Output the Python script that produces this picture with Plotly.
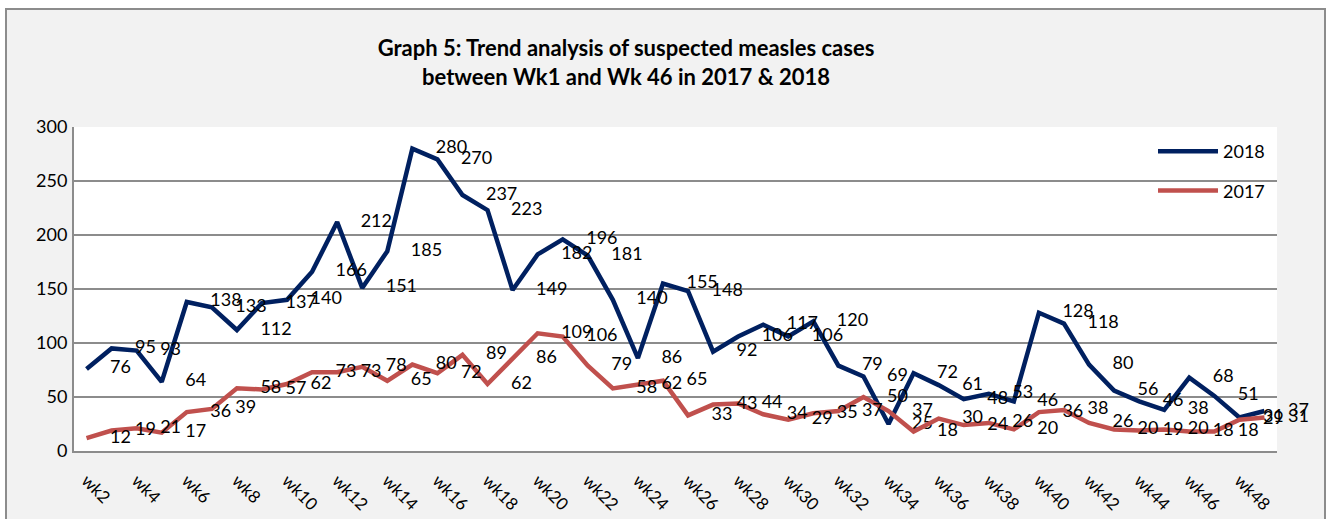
import plotly.graph_objects as go

weeks = ["wk2", "wk3", "wk4", "wk5", "wk6", "wk7", "wk8", "wk9", "wk10", "wk11",
         "wk12", "wk13", "wk14", "wk15", "wk16", "wk17", "wk18", "wk19", "wk20", "wk21",
         "wk22", "wk23", "wk24", "wk25", "wk26", "wk27", "wk28", "wk29", "wk30", "wk31",
         "wk32", "wk33", "wk34", "wk35", "wk36", "wk37", "wk38", "wk39", "wk40", "wk41",
         "wk42", "wk43", "wk44", "wk45", "wk46", "wk47", "wk48", "wk49"]

cases_2018 = [76, 95, 93, 64, 138, 133, 112, 137, 140, 166,
              212, 151, 185, 280, 270, 237, 223, 149, 182, 196,
              181, 140, 86, 155, 148, 92, 106, 117, 106, 120,
              79, 69, 25, 72, 61, 48, 53, 46, 128, 118,
              80, 56, 46, 38, 68, 51, 31, 37]

cases_2017 = [12, 19, 21, 17, 36, 39, 58, 57, 62, 73,
              73, 78, 65, 80, 72, 89, 62, 86, 109, 106,
              79, 58, 62, 65, 33, 43, 44, 34, 29, 35,
              37, 50, 37, 18, 30, 24, 26, 20, 36, 38,
              26, 20, 19, 20, 18, 18, 29, 31]

tick_labels = weeks[::2]

FONT = "Lato"
W, H = 1331, 519
L, R, T, B = 74, 1277, 127, 451

fig = go.Figure()
for name, vals, col in [("2018", cases_2018, "#002060"), ("2017", cases_2017, "#C0504D")]:
    fig.add_trace(go.Scatter(
        x=weeks, y=vals, name=name, legendgroup=name,
        mode="lines+markers+text",
        line=dict(color=col, width=4.5),
        marker=dict(size=36, color="rgba(0,0,0,0)"),
        text=[str(v) for v in vals],
        textposition="middle right",
        textfont=dict(family=FONT, size=18, color="#000000"),
        cliponaxis=False,
        hoverinfo="x+y+name",
    ))

pw = R - L
ph = B - T
fig.add_shape(type="rect", xref="paper", yref="paper",
              x0=(6 - L) / pw, x1=(1325 - L) / pw,
              y0=(B - 560) / ph, y1=(B - 9) / ph,
              fillcolor="#F2F2F2", line=dict(color="#8C8C8C", width=2), layer="below")
fig.add_shape(type="rect", xref="paper", yref="paper", x0=0, x1=1, y0=0, y1=1,
              fillcolor="#FFFFFF", line=dict(width=0), layer="below")

fig.update_layout(
    width=W, height=H,
    margin=dict(l=L, r=W - R, t=T, b=H - B, pad=0, autoexpand=False),
    paper_bgcolor="#FFFFFF",
    plot_bgcolor="#FFFFFF",
    font=dict(family=FONT, size=18, color="#000000"),
    title=dict(
        text="<b>Graph 5: Trend analysis of suspected measles cases<br>between Wk1 and Wk 46 in 2017 &amp; 2018</b>",
        font=dict(family=FONT, size=22, color="#000000"),
        xref="container", x=626 / W, xanchor="center",
        yref="container", y=1 - 56 / H, yanchor="middle",
    ),
    showlegend=True,
    legend=dict(
        x=(1153 - L) / pw, y=(B - 133) / ph, xanchor="left", yanchor="top",
        bgcolor="rgba(0,0,0,0)", font=dict(family=FONT, size=18),
        tracegroupgap=13, itemwidth=60,
    ),
    xaxis=dict(
        type="category", categoryorder="array", categoryarray=weeks,
        range=[-0.5, len(weeks) - 0.5],
        tickmode="array", tickvals=tick_labels, ticktext=tick_labels,
        tickangle=45, showgrid=False, automargin=False,
        ticks="outside", ticklen=11, tickcolor="rgba(0,0,0,0)",
        showline=True, linecolor="#8C8C8C", linewidth=2,
        tickfont=dict(family=FONT, size=17),
    ),
    yaxis=dict(
        range=[0, 300], dtick=50, tick0=0, automargin=False,
        showgrid=True, gridcolor="#8C8C8C", gridwidth=2,
        showline=True, linecolor="#8C8C8C", linewidth=2,
        ticks="outside", ticklen=1, tickcolor="rgba(0,0,0,0)",
        tickfont=dict(family=FONT, size=18),
        zeroline=False,
    ),
)

fig.write_html("out.html", config={"displayModeBar": False},
               post_script="document.body.style.margin='0';document.body.style.overflow='hidden';")
